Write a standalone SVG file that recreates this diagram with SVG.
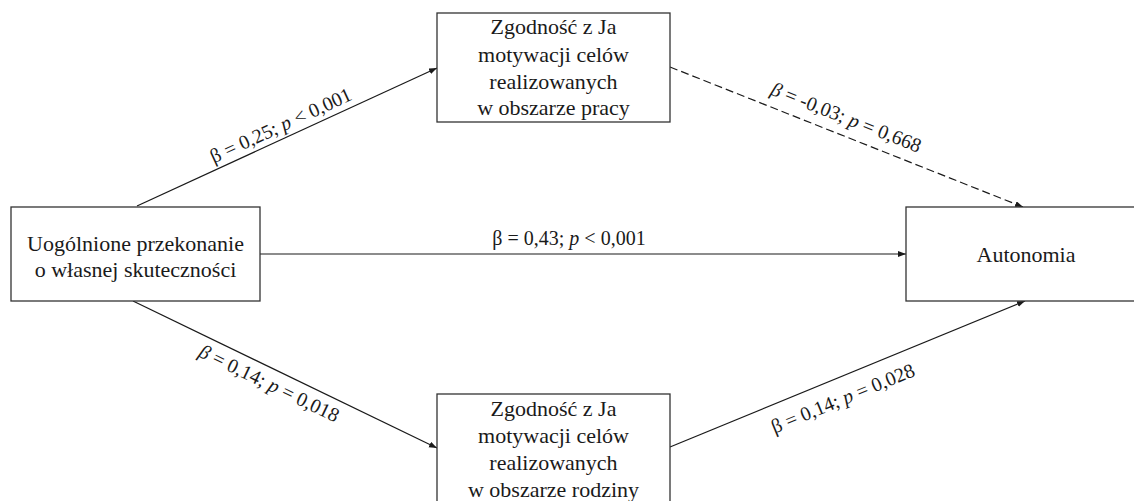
<svg xmlns="http://www.w3.org/2000/svg" width="1134" height="501" viewBox="0 0 1134 501">
<style>
.box{fill:#fff;stroke:#333;stroke-width:1.3}
.t{font-family:"Liberation Serif","Times New Roman",serif;font-size:22px;fill:#1a1a1a;text-anchor:middle}
.l{font-family:"Liberation Serif","Times New Roman",serif;font-size:20px;fill:#1a1a1a;text-anchor:middle}
.c{stroke:#1a1a1a;stroke-width:1.2;fill:none;marker-end:url(#arr)}
.d{stroke-dasharray:8 4}
.i{font-style:italic}
</style>
<defs>
<marker id="arr" markerWidth="9" markerHeight="7" refX="8" refY="3" orient="auto" markerUnits="userSpaceOnUse">
<path d="M0,0 L8,3 L0,6 z" fill="#1a1a1a"/>
</marker>
</defs>
<rect width="1134" height="501" fill="#fff"/>
<g id="connectors">
<line class="c" x1="137" y1="206" x2="437" y2="68"/>
<line class="c d" x1="670" y1="67" x2="1023" y2="207"/>
<line class="c" x1="260" y1="254" x2="906" y2="254"/>
<line class="c" x1="133" y1="301" x2="437" y2="448"/>
<line class="c" x1="670" y1="447" x2="1025" y2="301"/>
<text class="l" transform="rotate(-24.7 281 126)" x="281" y="132">β = 0,25; <tspan class="i">p</tspan> &lt; 0,001</text>
<text class="l" transform="rotate(21.5 846 118)" x="846" y="124"><tspan class="i">β</tspan> = -0,03; <tspan class="i">p</tspan> = 0,668</text>
<text class="l" x="569" y="245">β = 0,43; <tspan class="i">p</tspan> &lt; 0,001</text>
<text class="l" transform="rotate(25.8 269 384)" x="269" y="390"><tspan class="i">β</tspan> = 0,14; <tspan class="i">p</tspan> = 0,018</text>
<text class="l" transform="rotate(-22.4 843 399)" x="843" y="405">β = 0,14; <tspan class="i">p</tspan> = 0,028</text>
</g>
<g id="n-predictor">
<rect class="box" x="11" y="207" width="249" height="94"/>
<text class="t" x="135.5" y="251">Uogólnione przekonanie</text>
<text class="t" x="135.5" y="277">o własnej skuteczności</text>
</g>
<g id="n-work">
<rect class="box" x="437" y="13" width="233" height="109"/>
<text class="t" x="553.5" y="34">Zgodność z Ja</text>
<text class="t" x="553.5" y="61.5">motywacji celów</text>
<text class="t" x="553.5" y="89">realizowanych</text>
<text class="t" x="553.5" y="115">w obszarze pracy</text>
</g>
<g id="n-family">
<rect class="box" x="437" y="394" width="233" height="110"/>
<text class="t" x="553.5" y="416">Zgodność z Ja</text>
<text class="t" x="553.5" y="443">motywacji celów</text>
<text class="t" x="553.5" y="470">realizowanych</text>
<text class="t" x="553.5" y="497">w obszarze rodziny</text>
</g>
<g id="n-autonomy">
<rect class="box" x="906" y="207" width="240" height="94"/>
<text class="t" x="1026" y="262">Autonomia</text>
</g>
</svg>
